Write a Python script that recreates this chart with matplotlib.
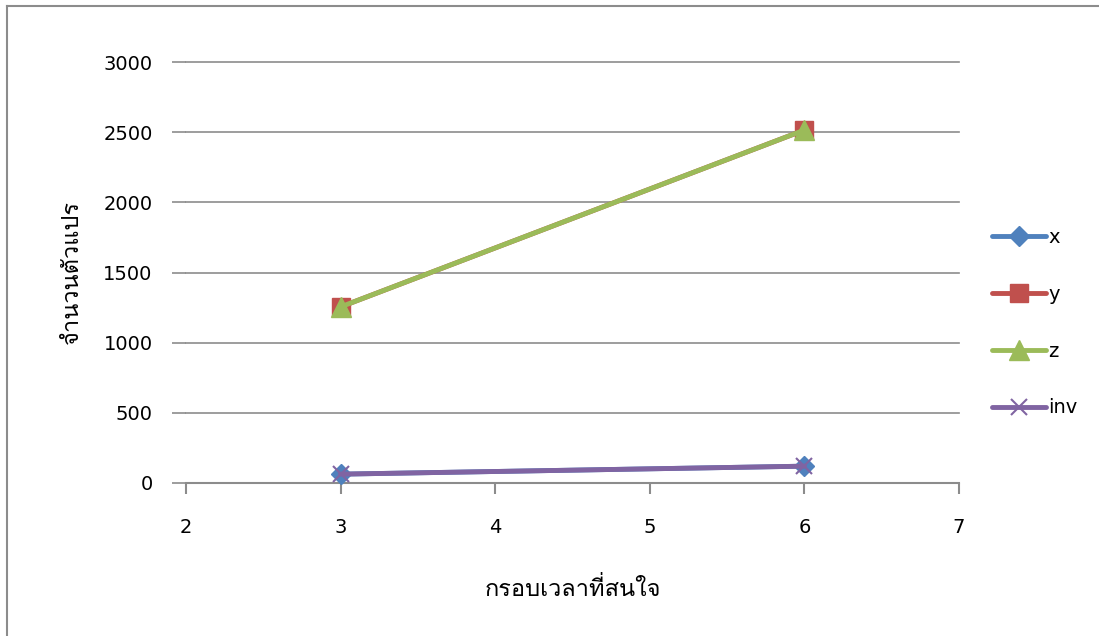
import matplotlib
matplotlib.use('Agg')
from matplotlib import pyplot as plt
from matplotlib import font_manager
from matplotlib.ft2font import FT2Font
from matplotlib.lines import Line2D

frames = [3, 6]
x_vals = [63, 120]
y_vals = [1255, 2515]
z_vals = [1255, 2515]
inv_vals = [63, 120]
series_names = ['x', 'y', 'z', 'inv']
xlabel = 'กรอบเวลาที่สนใจ'
ylabel = 'จำนวนตัวแปร'

# find a font that can draw Thai
def thai_font():
    for f in font_manager.fontManager.ttflist:
        try:
            if 0x0E08 in FT2Font(f.fname).get_charmap():
                return f.name
        except Exception:
            pass
    return None

thai = thai_font()
families = [thai, 'DejaVu Sans'] if thai else ['DejaVu Sans']
plt.rcParams['font.family'] = families

fig = plt.figure(figsize=(10.99, 6.36), dpi=100)
ax = fig.add_axes([186/1099, 1-483/636, 773/1099, 421/636])

styles = [
    dict(color='#4F81BD', marker='D', markersize=10),
    dict(color='#C0504D', marker='s', markersize=13),
    dict(color='#9BBB59', marker='^', markersize=14),
    dict(color='#8064A2', marker='x', markersize=11, markeredgewidth=1.5),
]
for name, vals, st in zip(series_names, [x_vals, y_vals, z_vals, inv_vals], styles):
    ax.plot(frames, vals, linewidth=3.5, solid_capstyle='round', label=name,
            clip_on=False, zorder=3, **st)

ax.set_xlim(2, 7)
ax.set_ylim(0, 3000)
ax.set_xticks([2, 3, 4, 5, 6, 7])
ax.set_yticks(range(0, 3001, 500))
ax.grid(axis='y', color='#8C8C8C', linewidth=1.2)
for gl in ax.yaxis.get_gridlines():
    gl.set_clip_on(False)
for s in ['top', 'right', 'left']:
    ax.spines[s].set_visible(False)
ax.spines['bottom'].set_color('#8C8C8C')
ax.spines['bottom'].set_linewidth(1.5)
ax.tick_params(axis='x', direction='out', length=8, width=1.5, color='#8C8C8C', pad=17)
ax.tick_params(axis='y', direction='out', length=10, width=1.2, color='#8C8C8C', pad=14)
for lbl in ax.get_xticklabels() + ax.get_yticklabels():
    lbl.set_family('DejaVu Sans')
    lbl.set_fontsize(14)
ax.set_axisbelow(True)

ax.set_xlabel(xlabel, fontsize=17, labelpad=29)
ax.set_ylabel(ylabel, fontsize=17, labelpad=15)

leg = ax.legend(loc='center left', bbox_to_anchor=(1.02, 0.381), frameon=False,
                prop={'family': 'DejaVu Sans', 'size': 14}, labelspacing=1.95,
                handlelength=2.8, handletextpad=0.1)

# chart border
fig.add_artist(Line2D([7/1099, 7/1099], [0, 1-6/636], color='#8C8C8C', linewidth=1.5))
fig.add_artist(Line2D([7/1099, 1], [1-6/636, 1-6/636], color='#8C8C8C', linewidth=1.5))

fig.savefig('out.png', dpi=100)
